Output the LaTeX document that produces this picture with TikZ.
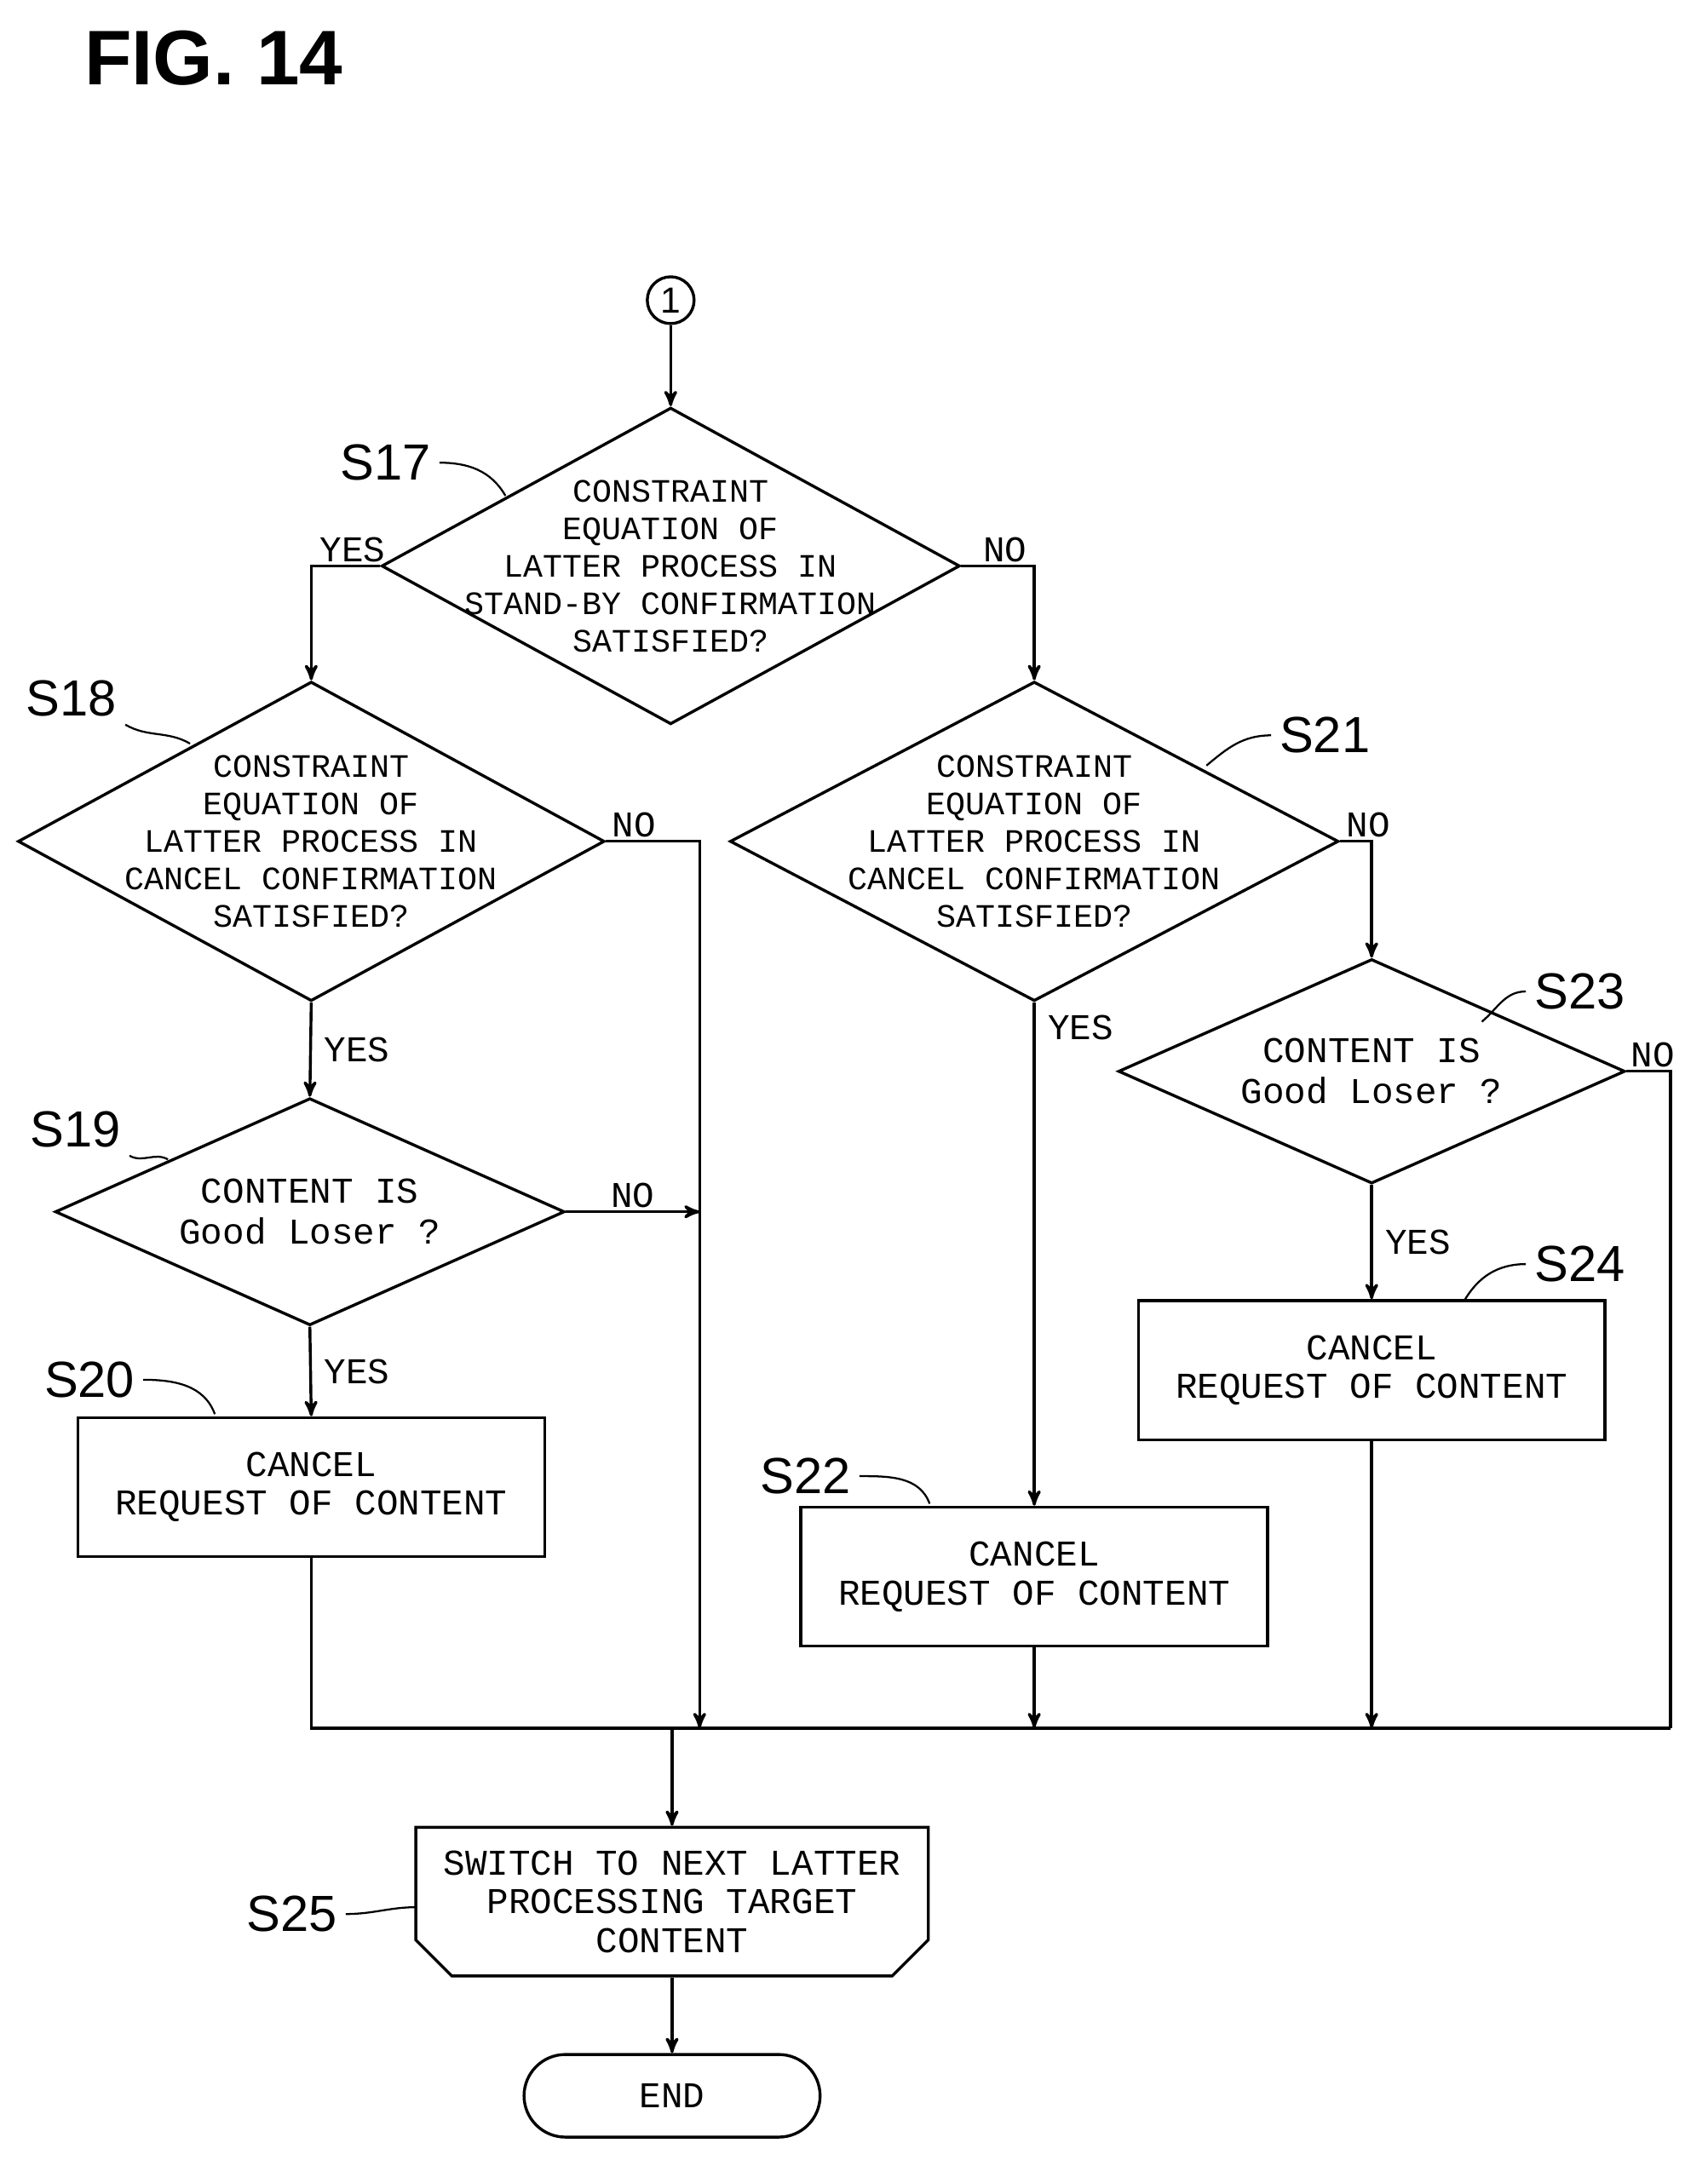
\documentclass[tikz,border=0pt]{standalone}
\usepackage{fontspec}
\setmainfont{Liberation Sans}
\setmonofont{Liberation Mono}
\usetikzlibrary{positioning,arrows,shapes.geometric,shapes.misc}
\tikzset{
  dia/.style={draw, diamond, inner sep=0pt, line width=1.2pt},
  box/.style={draw, rectangle, line width=1.2pt, minimum width=6.78cm, minimum height=2.02cm},
  txt/.style={font=\ttfamily\fontsize{13.5}{15.5}\selectfont, align=center, inner sep=0pt},
  lbl/.style={font=\ttfamily\fontsize{15}{16}\selectfont, inner sep=1pt},
  steplbl/.style={font=\fontsize{21}{22}\selectfont},
  flow/.style={line width=1.2pt, ->, >=stealth'},
  line/.style={line width=1.2pt},
  tie/.style={line width=0.8pt}
}
\begin{document}
\begin{tikzpicture}[x=0.02cm,y=-0.02cm]
\useasboundingbox (0,0) rectangle (1240,1573);
% title
\node[font=\bfseries\fontsize{32}{34}\selectfont] (title) at (155,42) {FIG. 14};

% connector and decisions
\node[draw, circle, line width=1.2pt, minimum size=0.68cm, inner sep=0pt, font=\fontsize{15}{16}\selectfont] (c1) at (487,218) {1};
\node[dia, minimum width=8.4cm, minimum height=4.6cm] (s17) at (487,411) {};
\node[txt] (t17) at (s17) {CONSTRAINT\\EQUATION OF\\LATTER PROCESS IN\\STAND-BY CONFIRMATION\\SATISFIED?};
\node[dia, minimum width=8.52cm, minimum height=4.64cm] (s18) at (226,611) {};
\node[txt] (t18) at (s18) {CONSTRAINT\\EQUATION OF\\LATTER PROCESS IN\\CANCEL CONFIRMATION\\SATISFIED?};
\node[dia, minimum width=8.84cm, minimum height=4.64cm] (s21) at (751,611) {};
\node[txt] (t21) at (s21) {CONSTRAINT\\EQUATION OF\\LATTER PROCESS IN\\CANCEL CONFIRMATION\\SATISFIED?};
\node[dia, minimum width=7.4cm, minimum height=3.3cm] (s19) at (225,880) {};
\node[txt, font=\ttfamily\fontsize{15}{17}\selectfont] (t19) at (s19) {CONTENT IS\\Good Loser ?};
\node[dia, minimum width=7.36cm, minimum height=3.26cm] (s23) at (996,778) {};
\node[txt, font=\ttfamily\fontsize{15}{17}\selectfont] (t23) at (s23) {CONTENT IS\\Good Loser ?};

% processes
\node[box, txt, font=\ttfamily\fontsize{15}{16}\selectfont] (s20) at (226,1080) {CANCEL\\REQUEST OF CONTENT};
\node[box, txt, font=\ttfamily\fontsize{15}{16}\selectfont] (s22) at (751,1145) {CANCEL\\REQUEST OF CONTENT};
\node[box, txt, font=\ttfamily\fontsize{15}{16}\selectfont] (s24) at (996,995) {CANCEL\\REQUEST OF CONTENT};
\node[draw, chamfered rectangle, chamfered rectangle corners={south east,south west}, chamfered rectangle xsep=0.4cm,
      line width=1.2pt, minimum width=7.4cm, minimum height=2.16cm, txt, font=\ttfamily\fontsize{15}{16}\selectfont] (s25) at (488,1381) {SWITCH TO NEXT LATTER\\PROCESSING TARGET\\CONTENT};
\node[draw, rounded rectangle, line width=1.2pt, minimum width=4.3cm, minimum height=1.2cm, txt, font=\ttfamily\fontsize{15}{16}\selectfont] (end) at (488,1522) {END};

% merge points
\coordinate (m18) at (508,1255);
\coordinate (m19) at (508,880);
\coordinate (m20) at (226,1255);
\coordinate (m22) at (751,1255);
\coordinate (m24) at (996,1255);
\coordinate (m23) at (1213,1255);
\coordinate (mc) at (488,1255);

% connectors
\draw[flow] (c1) -- (s17.north);
\draw[flow] (s17.west) -| (s18.north) node[lbl, pos=0.2, above] {YES};
\draw[flow] (s17.east) -| (s21.north) node[lbl, pos=0.3, above] {NO};
\draw[flow] (s18.east) -| (m18) node[lbl, pos=0.15, above] {NO};
\draw[flow] (s18.south) -- (s19.north) node[lbl, midway, right=4pt] {YES};
\draw[flow] (s19.east) -- (m19) node[lbl, midway, above] {NO};
\draw[flow] (s19.south) -- (s20.north) node[lbl, midway, right=4pt] {YES};
\draw[flow] (s21.east) -| (s23.north) node[lbl, pos=0.45, above] {NO};
\draw[flow] (s21.south) -- (s22.north) node[lbl, pos=0.05, right=4pt] {YES};
\draw[flow] (s23.south) -- (s24.north) node[lbl, midway, right=4pt] {YES};
\draw[line] (s23.east) -| (m23) node[lbl, pos=0.3, above] {NO};
\draw[line] (s20.south) -- (m20) -- (m23);
\draw[flow] (s22.south) -- (m22);
\draw[flow] (s24.south) -- (m24);
\draw[flow] (mc) -- (s25.north);
\draw[flow] (s25.south) -- (end.north);

% step labels
\node[steplbl] (l17) at (280,336) {S17};
\node[steplbl] (l18) at (52,507) {S18};
\node[steplbl] (l19) at (55,820) {S19};
\node[steplbl] (l20) at (65,1002) {S20};
\node[steplbl] (l21) at (962,534) {S21};
\node[steplbl] (l22) at (585,1072) {S22};
\node[steplbl] (l23) at (1147,720) {S23};
\node[steplbl] (l24) at (1147,918) {S24};
\node[steplbl] (l25) at (212,1390) {S25};
\draw[tie] (l17.east) to[out=0,in=120] (367,360);
\draw[tie] (l18.south east) to[out=-30,in=150] (138,540);
\draw[tie] (l19.south east) to[out=-30,in=150] (122,842);
\draw[tie] (l20.east) to[out=0,in=110] (156,1027);
\draw[tie] (l21.west) to[out=180,in=40] (876,556);
\draw[tie] (l22.east) to[out=0,in=110] (675,1092);
\draw[tie] (l23.west) to[out=180,in=40] (1076,742);
\draw[tie] (l24.west) to[out=180,in=60] (1063,945);
\draw[tie] (l25.east) to[out=0,in=180] (303,1385);
\end{tikzpicture}
\end{document}
